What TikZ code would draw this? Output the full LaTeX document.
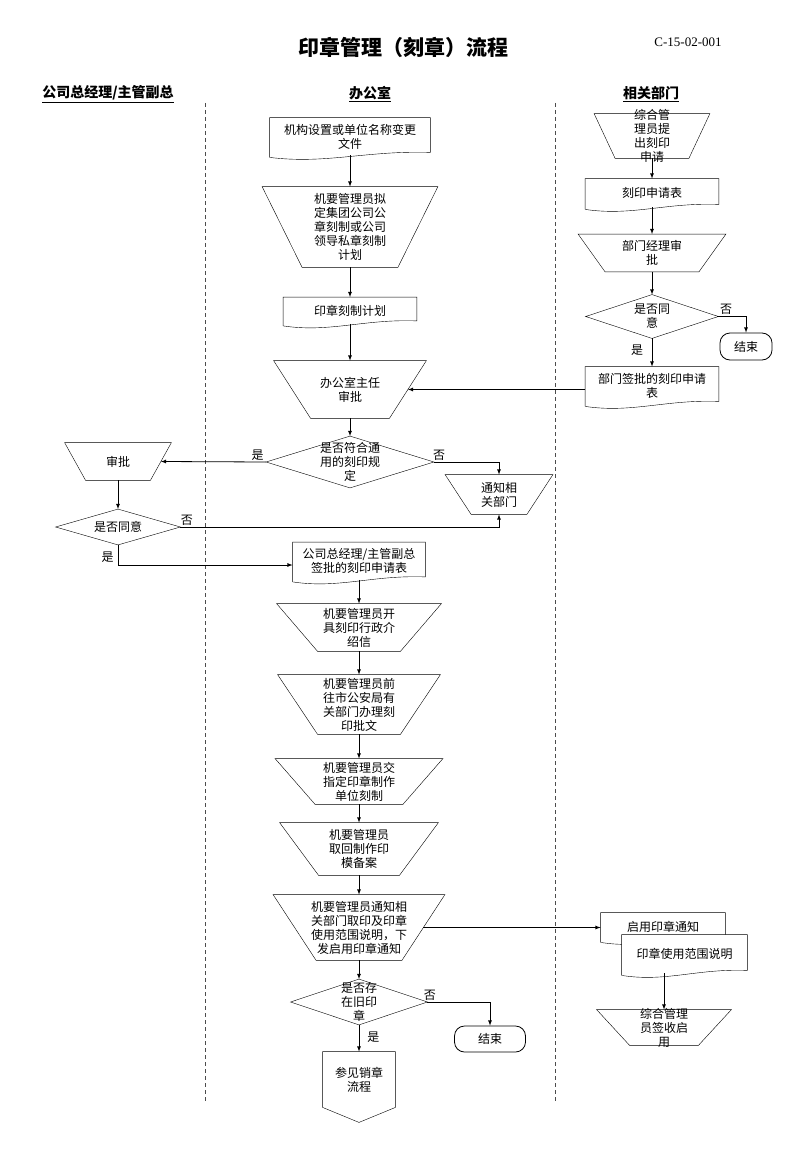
\documentclass[tikz,border=0pt]{standalone}
\usepackage{fontspec}
\setmainfont{Noto Sans CJK SC}
\newfontfamily\codefont{Liberation Serif}
\usetikzlibrary{calc,backgrounds}

\begin{document}
\begin{tikzpicture}[x=1pt,y=-1pt,line width=0.8pt,>=latex,
    box/.style={inner xsep=0pt,inner ysep=-12pt,align=center,font=\fontsize{12}{14}\selectfont},
    sz/.style 2 args={minimum width=#1pt,minimum height=#2pt},
    lbl/.style={inner sep=1.5pt,font=\fontsize{12}{14}\selectfont},
    lane/.style={font=\bfseries\fontsize{14}{16}\selectfont}]
    \useasboundingbox (0,0) rectangle (800,1155);

    % title and lanes
    \node[font=\bfseries\fontsize{21}{24}\selectfont] (title) at (403,47) {印章管理（刻章）流程};
    \node[font=\codefont\fontsize{13}{15}\selectfont] (code) at (688,42) {C-15-02-001};
    \node[lane] (hGM) at (108,94) {\underline{公司总经理/主管副总}};
    \node[lane] (hOffice) at (370,94) {\underline{办公室}};
    \node[lane] (hDept) at (651,94) {\underline{相关部门}};
    \foreach \x in {205,555} \draw[dashed,dash pattern=on 4pt off 3pt,gray!60!black] (\x,103) -- (\x,1103);

    % office
    \node[box,sz={160}{37}] (mFile) at (350,136.5) {机构设置或单位名称变更\\文件};
    \node[box,sz={175}{80}] (mPlan) at (350,227) {机要管理员拟\\定集团公司公\\章刻制或公司\\领导私章刻制\\计划};
    \node[box,sz={133}{26}] (mSchedule) at (350,310.5) {印章刻制计划};
    \node[box,sz={152}{57}] (mDir) at (350,389.5) {办公室主任\\审批};
    \node[box,sz={167}{51}] (mRule) at (350,462) {是否符合通\\用的刻印规\\定};
    \node[box,sz={107}{39}] (mNotify) at (499,494.5) {通知相\\关部门};
    \node[box,sz={132}{37}] (mGMSigned) at (359,561) {公司总经理/主管副总\\签批的刻印申请表};
    \node[box,sz={164}{47}] (mLetter) at (359,627.5) {机要管理员开\\具刻印行政介\\绍信};
    \node[box,sz={162}{59}] (mPolice) at (359,704.5) {机要管理员前\\往市公安局有\\关部门办理刻\\印批文};
    \node[box,sz={167}{45}] (mMake) at (359,781.5) {机要管理员交\\指定印章制作\\单位刻制};
    \node[box,sz={158}{52}] (mFetch) at (359,849) {机要管理员\\取回制作印\\模备案};
    \node[box,sz={171}{65}] (mIssue) at (359,927.5) {机要管理员通知相\\关部门取印及印章\\使用范围说明，下\\发启用印章通知};
    \node[box,sz={136}{45}] (mOld) at (359,1002) {是否存\\在旧印\\章};
    \node[box,draw,rounded corners=10pt,sz={71}{26}] (mEnd) at (490,1039) {结束};
    \node[box,sz={72}{55}] (mRef) at (359,1079.5) {参见销章\\流程};

    % general manager
    \node[box,sz={106}{37}] (lGM) at (118,461.5) {审批};
    \node[box,sz={124}{35}] (lAgree) at (118,527) {是否同意};

    % departments
    \node[box,sz={115}{44}] (rSubmit) at (652,136) {综合管\\理员提\\出刻印\\申请};
    \node[box,sz={133}{28}] (rForm) at (652,193) {刻印申请表};
    \node[box,sz={147}{37}] (rMgr) at (652,253) {部门经理审\\批};
    \node[box,sz={132}{43}] (rAgree) at (652,316.5) {是否同\\意};
    \node[box,draw,rounded corners=10pt,sz={52}{27}] (rEnd) at (746,346.5) {结束};
    \node[box,sz={133}{37}] (rSigned) at (652,385.5) {部门签批的刻印申请\\表};
    \node[box,sz={124}{27}] (rStart) at (663,926.5) {启用印章通知};
    \node[box,sz={125}{38}] (rUsage) at (684.5,954) {印章使用范围说明};
    \node[box,sz={134}{35}] (rReceive) at (664,1027.5) {综合管理\\员签收启\\用};

    \begin{scope}[on background layer]
    \foreach \n in {mFile,mSchedule,mGMSigned,rForm,rSigned,rStart,rUsage}
      \draw[fill=white] ([yshift=-2pt]\n.south west) -- (\n.north west) -- (\n.north east) -- ([yshift=3pt]\n.south east)
        .. controls ($(\n.south west)!.6!(\n.south east)+(0,5pt)$) and ($(\n.south west)!.35!(\n.south east)+(0,-9pt)$) .. ([yshift=-2pt]\n.south west);
    \foreach \n/\d in {mPlan/40,mDir/37,mNotify/26,lGM/21,mLetter/41,mPolice/40,mMake/40,mFetch/39,mIssue/43,rSubmit/21,rMgr/27,rReceive/33}
      \draw[fill=white] (\n.north west) -- (\n.north east) -- ([xshift=-\d pt]\n.south east) -- ([xshift=\d pt]\n.south west) -- cycle;
    \foreach \n in {mRule,lAgree,rAgree,mOld}
      \draw[fill=white] (\n.north) -- (\n.east) -- (\n.south) -- (\n.west) -- cycle;
    \draw[fill=white] (mRef.south west) -- (mRef.north west) -- (mRef.north east) -- (mRef.south east) -- ([yshift=-15pt]mRef.south) -- cycle;
    \end{scope}

    % flow
    \foreach \a/\b in {mFile/mPlan,mPlan/mSchedule,mSchedule/mDir,mDir/mRule,lGM/lAgree,mGMSigned/mLetter,mLetter/mPolice,mPolice/mMake,mMake/mFetch,mFetch/mIssue,mIssue/mOld,rSubmit/rForm,rForm/rMgr,rMgr/rAgree}
      \draw[->] (\a.south) -- (\b.north);
    \draw[->] (mRule.west) -- node[lbl,above,pos=.08] (yRule) {是} ([xshift=-10.5pt]lGM.east);
    \draw[->] (mRule.east) -| node[lbl,above,pos=.04] (nRule) {否} (mNotify.north);
    \draw[->] (lAgree.east) -| node[lbl,above,pos=.01] (nAgreeL) {否} (mNotify.south);
    \draw[->] (lAgree.south) |- node[lbl,left=2.5pt,pos=.3] (yAgreeL) {是} ([yshift=-4pt]mGMSigned.west);
    \draw[->] (rAgree.east) -| node[lbl,above,pos=.14] (nAgreeR) {否} (rEnd.north);
    \draw[->] (rAgree.south) -- node[lbl,left=7pt,pos=.41] (yAgreeR) {是} (rSigned.north);
    \draw[->] (rSigned.west |- mDir.east) -- ([xshift=-18.5pt]mDir.east);
    \draw[->] (mOld.south) -- node[lbl,right=6.5pt,pos=.45] (yOld) {是} (mRef.north);
    \draw[->] (mOld.east) -| node[lbl,above,pos=.02] (nOld) {否} (mEnd.north);
    \draw[->] ([xshift=-21.5pt]mIssue.east) -- (mIssue.east -| rStart.west);
    \draw[->] (rReceive.north |- rUsage.south) -- (rReceive.north);
\end{tikzpicture}
\end{document}
